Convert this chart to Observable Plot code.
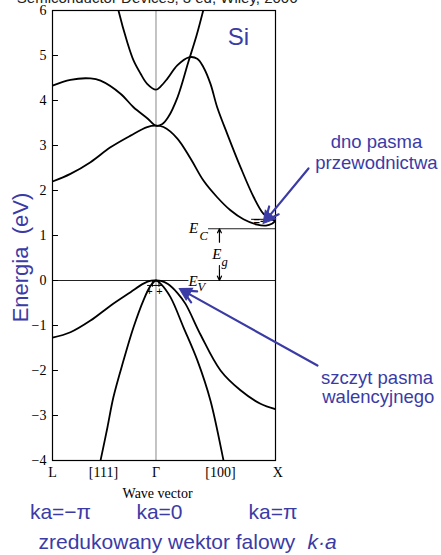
<!DOCTYPE html>
<html>
<head>
<meta charset="utf-8">
<script src="https://cdn.jsdelivr.net/npm/d3@7"></script>
<script src="https://cdn.jsdelivr.net/npm/@observablehq/plot@0.6"></script>
<style>
  html, body { margin: 0; padding: 0; background: #fff; }
  #chart { width: 441px; height: 555px; overflow: hidden; }
</style>
</head>
<body>
<div id="chart"></div>
<script>
// Band structure of silicon along L–Γ–X (energy in eV, k in units of 2π/a)
const kL = -0.866, kGamma = 0, kX = 1;
const energyTicks = [-4, -3, -2, -1, 0, 1, 2, 3, 4, 5, 6];
const kTickPos = [-0.866, -0.44, 0, 0.54, 1.02];
const kTickLabels = ["L", "[111]", "Γ", "[100]", "X"];
const Ec = 1.15, Ev = 0;

// conduction bands
const condLow = [[-0.866,2.2],[-0.716,2.37],[-0.548,2.63],[-0.381,2.96],[-0.213,3.22],[-0.074,3.41],[0,3.44],
  [0.063,3.41],[0.177,3.16],[0.289,2.71],[0.397,2.22],[0.512,1.85],[0.623,1.56],[0.732,1.36],[0.847,1.24],
  [0.92,1.22],[0.97,1.26],[1.0,1.33]];
const condMid = [[-0.866,4.33],[-0.716,4.46],[-0.548,4.49],[-0.464,4.44],[-0.297,4.15],[-0.188,3.85],[-0.071,3.6],
  [0,3.44],[0.05,3.47],[0.1,3.62],[0.18,4.07],[0.27,4.85],[0.34,5.45],[0.40,6.05]];
const condHigh = [[-0.33,6.2],[-0.314,6.0],[-0.241,5.3],[-0.188,4.89],[-0.13,4.6],[-0.074,4.37],[0,4.24],
  [0.038,4.31],[0.094,4.48],[0.178,4.78],[0.275,4.96],[0.345,4.93],[0.397,4.74],[0.456,4.37],[0.512,3.85],
  [0.596,3.26],[0.707,2.52],[0.818,1.85],[0.9,1.48],[0.96,1.37],[1.0,1.33]];
// valence bands
const valHeavy = [[-0.866,-1.27],[-0.716,-1.15],[-0.548,-0.89],[-0.381,-0.56],[-0.213,-0.26],[-0.105,-0.07],[-0.04,-0.005],
  [0,0],[0.04,-0.01],[0.1,-0.08],[0.18,-0.28],[0.247,-0.52],[0.372,-1.2],[0.54,-2.0],[0.707,-2.44],[0.874,-2.74],[1.0,-2.86]];
const valLight = [[-0.48,-4.2],[-0.464,-4.0],[-0.406,-3.26],[-0.356,-2.59],[-0.272,-1.78],[-0.188,-1.04],[-0.105,-0.44],[-0.046,-0.12],
  [0,0],[0.038,-0.07],[0.121,-0.37],[0.23,-1.04],[0.347,-1.78],[0.456,-2.67],[0.565,-4.0],[0.58,-4.2]];

const bandRows = [["condLow", condLow], ["condMid", condMid], ["condHigh", condHigh],
                  ["valHeavy", valHeavy], ["valLight", valLight]]
  .flatMap(([band, pts]) => pts.map(([k, E]) => ({band, k, E})));

const blue = "#3b3ba6";
const sans = "Liberation Sans, Arial, sans-serif";
const serif = "Liberation Serif, Times New Roman, serif";

// plot geometry
const W = 441, H = 555, mL = 52, mR = 166, mT = 10, mB = 95;
const pxPerK = (W - mL - mR) / (kX - kL);
const pxPerE = (H - mT - mB) / 10;

// callout arrows (tail → head)
const callouts = [
  {x1: 1.276, y1: 2.49, x2: 0.916, y2: 1.33},
  {x1: 1.351, y1: -1.89, x2: 0.222, y2: -0.22}
];
// filled heads: a triangle just behind each tip, turned along the shaft
const calloutHeads = callouts.map(({x1, y1, x2, y2}) => {
  const dx = (x2 - x1) * pxPerK, dy = -(y2 - y1) * pxPerE;
  const len = Math.hypot(dx, dy), ux = dx / len, uy = dy / len;
  return {
    k: x2 - ux * 4 / pxPerK,
    E: y2 + uy * 4 / pxPerE,
    angle: Math.atan2(ux, -uy) * 180 / Math.PI
  };
});
const calloutText = [
  {k: 1.845, E: 3.07, t: "dno pasma"},
  {k: 1.845, E: 2.60, t: "przewodnictwa"},
  {k: 1.85, E: -2.16, t: "szczyt pasma"},
  {k: 1.86, E: -2.60, t: "walencyjnego"}
];
const kaText = [
  {k: -0.799, t: "ka=−π"},
  {k: 0.029, t: "ka=0"},
  {k: 0.979, t: "ka=π"}
];

const chart = Plot.plot({
  width: W,
  height: H,
  marginLeft: mL,
  marginRight: mR,
  marginTop: mT,
  marginBottom: mB,
  x: {domain: [kL, kX], axis: null},
  y: {domain: [-4, 6], axis: null},
  style: {background: "white", fontFamily: serif},
  marks: [
    Plot.ruleX([kGamma], {stroke: "#888", strokeWidth: 1}),
    Plot.ruleY([Ev], {stroke: "#222", strokeWidth: 1}),
    Plot.ruleY([Ec], {x1: 0.44, x2: kX, stroke: "#222", strokeWidth: 1}),
    Plot.ruleY(energyTicks, {x1: kL, x2: kL + 0.05, stroke: "black", strokeWidth: 1}),
    Plot.line(bandRows, {x: "k", y: "E", z: "band", curve: "catmull-rom", stroke: "black", strokeWidth: 1.8, clip: true}),
    // carriers at the band edges
    Plot.ruleY([-0.11], {x1: -0.07, x2: 0.06, stroke: "black", strokeWidth: 1}),
    Plot.ruleX([-0.03, 0.025], {y1: 0, y2: -0.15, stroke: "black", strokeWidth: 1}),
    Plot.text([-0.055, 0.03], {x: d => d, y: -0.24, text: d => "+", fontSize: 11, fontFamily: sans}),
    Plot.ruleY([1.36], {x1: 0.8, x2: 0.97, stroke: "black", strokeWidth: 1}),
    Plot.text([0.87], {x: d => d, y: 1.31, text: d => "=−", fontSize: 11, fontFamily: sans, fontWeight: "bold"}),
    Plot.frame({stroke: "black", strokeWidth: 1.2}),
    // gap annotation
    Plot.arrow([{y1: 0.85, y2: Ec}], {x1: 0.531, x2: 0.531, y1: "y1", y2: "y2", stroke: "black", strokeWidth: 1.2, headLength: 6, headAngle: 50}),
    Plot.arrow([{y1: 0.33, y2: Ev}], {x1: 0.531, x2: 0.531, y1: "y1", y2: "y2", stroke: "black", strokeWidth: 1.2, headLength: 6, headAngle: 50}),
    Plot.text([{k: 0.314, E: Ec + 0.01, t: "E"}, {k: 0.51, E: 0.58, t: "E"}, {k: 0.31, E: -0.02, t: "E"}],
      {x: "k", y: "E", text: "t", fontStyle: "italic", fontSize: 15, fontFamily: serif, stroke: "white", strokeWidth: 4, fill: "black", paintOrder: "stroke"}),
    Plot.text([{k: 0.398, E: 1.0, t: "C"}, {k: 0.575, E: 0.41, t: "g"}, {k: 0.38, E: -0.15, t: "V"}],
      {x: "k", y: "E", text: "t", fontStyle: "italic", fontSize: 12.5, fontFamily: serif, stroke: "white", strokeWidth: 3, fill: "black", paintOrder: "stroke"}),
    // axis labels
    Plot.text(energyTicks, {x: kL, y: d => d, text: d => d < 0 ? "−" + (-d) : String(d), textAnchor: "end", dx: -6, fontSize: 14, fontFamily: serif}),
    Plot.text(kTickPos, {x: d => d, y: -4, text: (d, i) => kTickLabels[i], dy: 12, fontSize: 14, fontFamily: serif}),
    Plot.text(["Wave vector"], {x: 0.013, y: -4, text: d => d, dy: 33, fontSize: 14, fontFamily: serif}),
    Plot.text(["Energia  (eV)"], {x: -1.134, y: 0.51, text: d => d, rotate: -90, fill: blue, fontSize: 22, fontFamily: sans}),
    Plot.text(["Si"], {x: 0.69, y: 5.41, text: d => d, fill: blue, fontSize: 24, fontFamily: sans}),
    Plot.text(["Semiconductor Devices, 3 ed, Wiley, 2006"], {x: 0.01, y: 6.16, text: d => d, lineAnchor: "bottom", fill: "#222", fontSize: 15, fontFamily: sans}),
    // callouts
    Plot.arrow(callouts, {x1: "x1", y1: "y1", x2: "x2", y2: "y2", stroke: blue, strokeWidth: 2.2, headLength: 10, headAngle: 50}),
    Plot.dot(calloutHeads, {x: "k", y: "E", rotate: "angle", symbol: "triangle", r: 5, fill: blue, stroke: blue, strokeWidth: 1}),
    Plot.text(calloutText, {x: "k", y: "E", text: "t", fill: blue, fontSize: 18.5, fontFamily: sans}),
    Plot.text(kaText, {x: "k", y: -5.16, text: "t", fill: blue, fontSize: 21, fontFamily: sans}),
    Plot.text(["zredukowany wektor falowy"], {x: -0.983, y: -5.82, text: d => d, textAnchor: "start", fill: blue, fontSize: 21, fontFamily: sans}),
    Plot.text(["k·a"], {x: 1.268, y: -5.82, text: d => d, textAnchor: "start", fill: blue, fontSize: 21, fontStyle: "italic", fontFamily: sans})
  ]
});
document.getElementById("chart").appendChild(chart);
</script>
</body>
</html>
